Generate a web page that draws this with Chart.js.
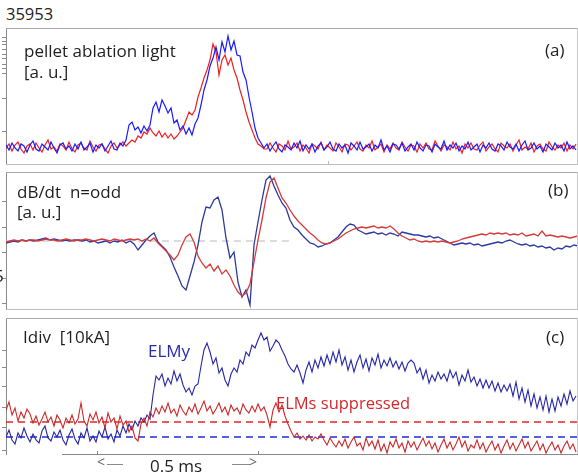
<!DOCTYPE html>
<html><head><meta charset="utf-8">
<script src="https://cdn.jsdelivr.net/npm/chart.js@4.4.1/dist/chart.umd.min.js"></script>
<style>
html,body{margin:0;padding:0;background:#fff;width:578px;height:475px;overflow:hidden;}
body{position:relative;font-family:"Open Sans",sans-serif;color:#1e1e1e;}
.pane{position:absolute;left:0;width:578px;}
.pane canvas{display:block;}
.t{position:absolute;white-space:nowrap;line-height:1;font-size:17px;}
.ln{position:absolute;height:0;border-top:1px solid #8a8a8a;}
</style></head><body>

<div class="pane" style="top:28px;height:137px"><canvas id="ca" width="578" height="137"></canvas></div>
<div class="pane" style="top:172px;height:138px"><canvas id="cb" width="578" height="138"></canvas></div>
<div class="pane" style="top:318px;height:137px"><canvas id="cc" width="578" height="137"></canvas></div>

<div class="t" style="left:6px;top:6px;font-size:16.5px;">35953</div>
<div class="t" style="left:24px;top:42px;">pellet ablation light</div>
<div class="t" style="left:24px;top:63px;">[a. u.]</div>
<div class="t" style="left:545px;top:41px;">(a)</div>
<div class="t" style="left:17px;top:183px;">dB/dt&nbsp; n=odd</div>
<div class="t" style="left:17px;top:203px;">[a. u.]</div>
<div class="t" style="left:548px;top:181px;">(b)</div>
<div class="t" style="left:-6px;top:267px;">5</div>
<div class="t" style="left:23px;top:328px;">Idiv&nbsp; [10kA]</div>
<div class="t" style="left:546px;top:328px;">(c)</div>
<div class="t" style="left:148px;top:342px;color:#2a2ab0;">ELMy</div>
<div class="t" style="left:276px;top:395px;color:#d2282e;font-size:16.5px;">ELMs suppressed</div>
<div class="t" style="left:150px;top:457px;">0.5 ms</div>
<div class="t" style="left:97px;top:455px;font-size:14px;color:#666;">&lt;</div>
<div class="ln" style="left:107px;width:16px;top:464px;"></div>
<div class="ln" style="left:232px;width:18px;top:464px;"></div>
<div class="t" style="left:249px;top:455px;font-size:14px;color:#666;">&gt;</div>

<script>
// ---------- time base (µs) ----------
const timeSpan = 1776.4;          // visible window, µs
const stepAC = 9.317;             // sample spacing panels (a),(c), µs
const stepB = 12.422;             // sample spacing panel (b), µs
const halfMsMarks = [282.6, 782.6]; // the "0.5 ms" span marks, µs

// ---------- (a) pellet ablation light [a.u.] ----------
const lightBlue = [
 2,-3,4,-1,-4,3,1,-5,2,6, -2,-4,3,0,-3,5,-1,-6,2,4, -2,1,-4,3,-2,5,-3,0,4,-5, 2,-1,3,-4,1,6,-2,-3,4,1,
 7,22,25,17,20,14,21,16,22,39, 45,35,47,41,34,39,24,27,17,21, 13,19,12,23,29,42,57,67,81,89,
 100,87,105,95,111,97,106,92,91,75, 67,50,35,19,9,4,-1,
 3,-4,1,5,-2,-5,2,0,-3,4, -1,6,-4,2,-2,3,-5,1,4,-3, 0,5,-2,-4,3,-1,2,-6,4,1, -3,5,-2,0,3,-4,2,-1,7,-3,
 1,-5,3,2,-2,4,-4,0,3,-3, 5,-1,-4,2,1,-5,3,0,-2,6, -3,2,-1,4,-4,1,-2,5,-3,0, 3,-5,2,-1,4,-2,-4,3,1,-3,
 5,0,-2,3,-4,2,6,-3,-1,4, -2,1,-5,3,0,-3,4,-1,2,-4, 5,-2,1,-3
];
const lightRed = [
 -1,3,-4,2,5,-2,-6,1,3,-3, 4,-1,-5,2,7,-2,0,-4,3,1, -3,5,-2,-5,2,4,-1,-3,6,0, -4,2,3,-2,-6,1,4,-1,2,5,
 1,4,7,5,11,9,15,13,19,14, 11,16,10,14,9,13,8,11,15,19, 27,35,32,37,50,59,69,77,87,103,
 95,72,87,92,82,89,77,69,57,47, 35,25,17,9,3,1,-2,
 -2,4,-1,-5,3,1,-3,6,-2,0, 4,-4,2,-1,-6,3,1,-2,5,-3, 2,-1,-4,4,0,-5,3,2,-3,1, 5,-2,-4,2,-1,6,-3,0,3,-5,
 2,-2,4,-1,-3,5,0,-4,2,1, -5,3,-1,4,-2,-3,6,1,-4,2, 0,-3,5,-2,1,-6,3,-1,4,-2, -3,2,5,-4,0,3,-2,-5,4,1,
 -1,3,-4,2,7,-3,0,-2,4,-5, 1,3,-2,-4,5,0,-3,2,-1,4, -4,2,-2,3
];

// ---------- (b) dB/dt n=odd [a.u.] ----------
const dbdtBlue = [
 -2,-1,0,-1,1,0,1,0,1,2, 3,1,2,1,0,1,0,1,1,0, 1,-1,0,-2,-1,0,-2,0,-1,1,
 -2,0,-3,-9,-4,1,5,8,-1,-5, -9,-16,-26,-35,-45,-49,-35,-21,-4,19, 34,33,41,44,31,3,-17,-11,-41,-56,
 -49,-64,-4,19,41,61,65,55,46,38, 33,21,14,11,6,2,-2,-3,-6,-5, -3,-2,1,4,9,14,17,16,11,9,
 7,8,9,7,8,6,8,7,5,9, 8,7,6,6,5,4,5,3,4,2, 0,-2,-4,-3,-2,-3,-2,-4,-3,-5,
 -4,-3,-2,-1,-2,0,1,-1,-3,-4, -3,-5,-4,-6,-5,-7,-6,-9,-7,-8, -5,-6,-4,-5
];
const dbdtRed = [
 -1,0,1,0,1,0,1,1,0,1, 2,1,1,0,1,2,1,0,1,1, 2,1,0,1,2,1,0,2,1,0,
 1,2,1,2,0,2,0,3,-2,-6, -10,-14,-19,-14,-4,4,7,-1,-15,-22, -27,-23,-30,-25,-33,-29,-35,-44,-51,-55,
 -52,-43,-21,1,21,43,59,63,53,43, 38,31,25,20,16,12,8,5,1,-2, -3,-2,0,2,5,8,10,12,13,14,
 13,14,15,13,14,13,15,12,8,5, 3,1,2,0,-1,0,-1,0,-1,0, -1,-2,-1,0,2,3,4,5,6,7,
 6,8,7,8,7,8,6,7,6,8, 5,6,7,5,10,5,6,5,4,5, 4,3,4,5
];

// ---------- (c) Idiv [10 kA] ----------
const idivElmy = [
 18,25,15,11,22,17,27,19,13,21, 15,12,24,29,17,14,23,18,25,15, 10,20,26,16,11,22,17,27,14,19,
 13,24,18,28,16,21,13,25,19,29, 22,31,25,34,29,37,33,40,36,60, 79,75,81,69,77,71,84,74,81,70,
 63,67,60,69,71,89,105,112,103,91, 97,82,87,75,69,81,87,83,95,91, 103,99,110,107,115,122,115,118,104,109,
 115,112,105,99,91,86,83,90,82,72, 85,93,83,95,87,98,89,100,91,103, 93,105,90,98,85,95,83,93,100,87,
 96,84,97,90,101,87,95,89,97,88, 94,86,93,84,92,95,92,82,87,76, 85,72,80,74,83,76,81,74,85,77,
 83,70,80,74,85,73,78,69,76,67, 75,67,74,64,72,63,70,64,71,59, 73,56,67,53,65,49,61,47,58,45,
 59,43,56,44,58,49,61,51,64,54, 59
];
const idivSuppressed = [
 45,53,40,47,34,43,37,46,41,32, 39,30,36,43,33,38,29,40,35,27, 37,32,40,31,36,52,34,29,41,35,
 43,32,38,27,42,33,37,26,39,30, 34,23,29,17,14,31,37,29,43,38, 47,41,49,43,52,42,46,39,50,44,
 40,48,43,51,41,47,54,44,49,41, 46,52,43,48,40,50,44,47,41,51, 45,42,49,43,51,44,48,40,28,45,
 52,43,50,39,31,24,18,22,16,19, 15,20,14,18,16,21,15,10,17,12, 8,14,9,16,7,13,18,9,12,5,
 17,9,14,6,15,4,11,2,13,8, 16,7,12,3,14,8,13,5,11,17, 9,14,6,12,3,10,16,7,13,5,
 11,18,8,14,4,10,7,15,6,12, 3,9,14,5,11,2,9,15,6,12, 4,10,16,7,13,4,9,14,5,11,
 2,8,13,5,10,2,9,14,6,11, 3
];
const elmyLevel = 18;        // blue dashed reference level
const suppressedLevel = 33;  // red dashed reference level
const zeroLevelB = 0;        // grey dashed zero line in (b)
const zeroLineEnd = 888;     // µs, where the grey dashed zero line ends

// y tick marks (no labels) on the left axes
const yTicksA = [110,106,102,98,93,88,83,79,74,49,16];
const yTicksB = [39,14,-12,-37,-62];
const yTicksC = [105,88,68,48,28,5];

// ---------- helpers ----------
const toXY = (arr, step) => arr.map((v, i) => ({x: i * step, y: v}));
const line = (pts, color, w, extra) => Object.assign({
  data: pts, borderColor: color, borderWidth: w, pointRadius: 0, fill: false, tension: 0
}, extra || {});

const framePlugin = {
  id: 'frame',
  afterDatasetsDraw(chart, args, o) {
    const {ctx, chartArea: a, scales} = chart;
    ctx.save();
    ctx.lineWidth = 1;
    ctx.strokeStyle = o.topColor || '#a8a8a8';
    ctx.beginPath(); ctx.moveTo(a.left, a.top + 0.5); ctx.lineTo(a.right, a.top + 0.5); ctx.stroke();
    ctx.strokeStyle = o.rightColor || '#c8c8c8';
    ctx.beginPath(); ctx.moveTo(a.right - 0.5, a.top); ctx.lineTo(a.right - 0.5, a.bottom); ctx.stroke();
    ctx.strokeStyle = o.bottomColor || '#bdbdbd';
    const bx = o.bottomFrom != null ? scales.x.getPixelForValue(o.bottomFrom) : a.left;
    ctx.beginPath(); ctx.moveTo(bx, a.bottom - 0.5); ctx.lineTo(a.right, a.bottom - 0.5); ctx.stroke();
    (o.marks || []).forEach(m => {
      const px = Math.round(scales.x.getPixelForValue(m)) + 0.5;
      ctx.beginPath(); ctx.moveTo(px, a.bottom); ctx.lineTo(px, a.bottom - 4); ctx.stroke();
    });
    ctx.restore();
  }
};

function makeChart(id, datasets, ymin, ymax, yticks, frame) {
  return new Chart(document.getElementById(id), {
    type: 'line',
    data: {datasets},
    plugins: [framePlugin],
    options: {
      responsive: false, animation: false, devicePixelRatio: 1,
      layout: {padding: {left: 2, right: 0, top: 0, bottom: 0}},
      plugins: {legend: {display: false}, tooltip: {enabled: false}, frame},
      scales: {
        x: {type: 'linear', min: 0, max: timeSpan, display: false},
        y: {
          min: ymin, max: ymax,
          afterBuildTicks: s => { s.ticks = yticks.map(v => ({value: v})); },
          ticks: {display: false},
          grid: {drawOnChartArea: false, tickLength: 4, color: '#8a8a8a'},
          border: {color: '#8a8a8a'}
        }
      }
    }
  });
}

// (a)
makeChart('ca', [
  line(toXY(lightBlue, stepAC), '#1a1aff', 1.2, {order: 0}),
  line(toXY(lightRed, stepAC), '#f02020', 1.2, {order: 1})
], -18, 119, yTicksA, {marks: [1000]});

// (b)
makeChart('cb', [
  line([{x: 0, y: zeroLevelB}, {x: zeroLineEnd, y: zeroLevelB}], '#b8b8b8', 1, {borderDash: [7, 5], order: 3}),
  line(toXY(dbdtBlue, stepB), '#2c3aa0', 1.3, {order: 1}),
  line(toXY(dbdtRed, stepB), '#d63a3a', 1.3, {order: 0})
], -69, 69, yTicksB, {});

// (c)
makeChart('cc', [
  line([{x: 0, y: suppressedLevel}, {x: timeSpan, y: suppressedLevel}], '#e02828', 1.6, {borderDash: [7, 5], order: 3}),
  line([{x: 0, y: elmyLevel}, {x: timeSpan, y: elmyLevel}], '#1f2fd0', 1.6, {borderDash: [7, 5], order: 2}),
  line(toXY(idivElmy, stepAC), '#2626a6', 1.1, {order: 1}),
  line(toXY(idivSuppressed, stepAC), '#cc2a2a', 1.1, {order: 0})
], 0, 137, yTicksC, {bottomFrom: 174, bottomColor: '#8a8a8a', marks: halfMsMarks});
</script>
</body></html>
